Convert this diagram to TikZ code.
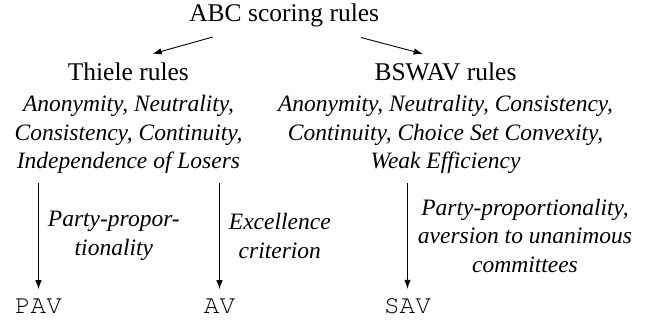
\documentclass[tikz,border=0pt]{standalone}
\usepackage{fontspec}
\setmainfont{Liberation Serif}[ItalicFont={Liberation Serif Italic}]
\setmonofont{TeX Gyre Cursor}
\usetikzlibrary{arrows.meta}

\begin{document}
\begin{tikzpicture}[x=1pt,y=-1pt,
		rulename/.style={inner sep=0pt,anchor=base,font=\fontsize{25.5}{30}\selectfont},
		props/.style={inner sep=0pt,anchor=base,align=center,font=\fontsize{23.5}{28.5}\selectfont\itshape},
		axiom/.style={inner sep=0pt,anchor=west,xshift=9pt,align=center,font=\fontsize{23.5}{28.5}\selectfont\itshape},
		rulecode/.style={inner sep=0pt,anchor=base,font=\fontsize{26}{30}\selectfont\ttfamily},
		arr/.style={line width=0.9pt,-{Latex[length=9pt,width=6.5pt]}}]
	\useasboundingbox (0,0) rectangle (657,322);

	\node[rulename] (abc) at (284.2,21.3) {ABC scoring rules};
	\node[rulename] (thiele) at (128.3,80) {Thiele rules};
	\node[rulename] (bswav) at (445.5,80) {BSWAV rules};

	% base of a multi-line node sits on its last line
	\node[props] (thieleprops) at (128.5,168.5) {Anonymity, Neutrality,\\ Consistency, Continuity,\\ Independence of Losers};
	\node[props] (bswavprops) at (445.5,168.5) {Anonymity, Neutrality, Consistency,\\ Continuity, Choice Set Convexity,\\ Weak Efficiency};

	\node[rulecode] (pav) at (38.5,313) {PAV};
	\node[rulecode] (av) at (219.5,313) {AV};
	\node[rulecode] (sav) at (407.5,313) {SAV};

	\draw[arr] ([xshift=-71.5pt,yshift=-10pt]abc.south) -- ([xshift=24.4pt,yshift=8.3pt]thiele.north);
	\draw[arr] ([xshift=76.8pt,yshift=-10.5pt]abc.south) -- ([xshift=-22.8pt,yshift=8.3pt]bswav.north);

	\draw[arr,shorten <=9.5pt,shorten >=9pt] (pav.north |- thieleprops.south) -- node[axiom] {Party-propor-\\tionality} (pav.north);
	\draw[arr,shorten <=9.5pt,shorten >=9pt] (av.north |- thieleprops.south) -- node[axiom] {Excellence\\ criterion} (av.north);
	\draw[arr,shorten <=9.5pt,shorten >=9pt] (sav.north |- bswavprops.south) -- node[axiom,xshift=1pt] {Party-proportionality,\\ aversion to unanimous\\ committees} (sav.north);
\end{tikzpicture}
\end{document}
